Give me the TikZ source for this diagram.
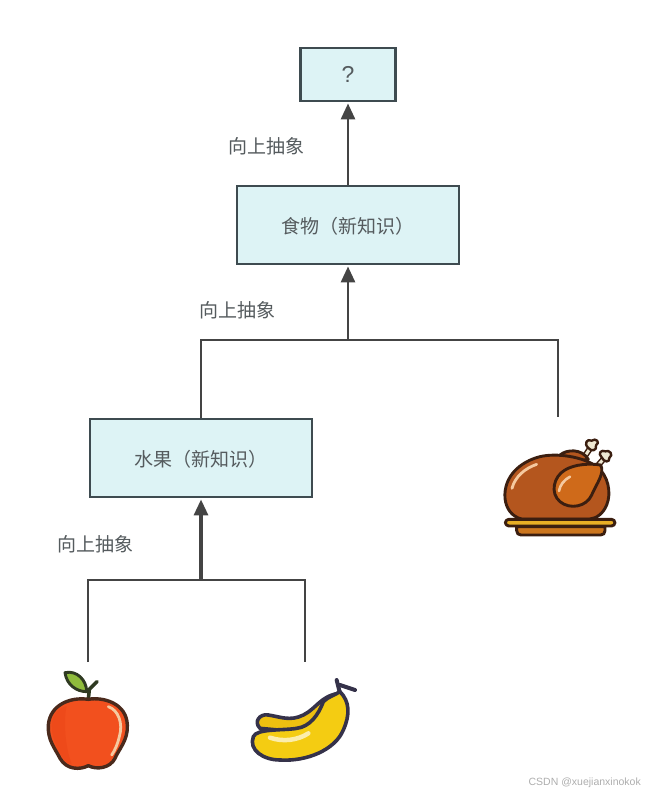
\documentclass[tikz,border=0pt]{standalone}
\usepackage{fontspec}
\usetikzlibrary{arrows.meta}
\newfontfamily\cjkf{Noto Sans CJK SC}
\setmainfont{Liberation Sans}
\definecolor{boxfill}{HTML}{DDF3F5}
\definecolor{boxline}{HTML}{3E4B50}
\definecolor{txt}{HTML}{555B5E}
\definecolor{conn}{HTML}{444444}
\definecolor{chk}{HTML}{B4561E}
\definecolor{chkleg}{HTML}{CF6A1A}
\definecolor{chkline}{HTML}{3B1E10}
\definecolor{bone}{HTML}{EFE8D2}
\definecolor{gold}{HTML}{E8AE25}
\definecolor{plate}{HTML}{CC761E}
\definecolor{hl}{HTML}{F5C9A0}
\definecolor{appl}{HTML}{F2501E}
\definecolor{appd}{HTML}{EE4A1A}
\definecolor{appline}{HTML}{4A2A1C}
\definecolor{leaf}{HTML}{8FBC3C}
\definecolor{leafline}{HTML}{2F3A22}
\definecolor{ban}{HTML}{F4CC12}
\definecolor{banb}{HTML}{EEC010}
\definecolor{banline}{HTML}{35324A}
\tikzset{
  x=1pt,y=-1pt,
  concept/.style={draw=boxline,fill=boxfill,line width=2.9pt,inner sep=0pt,text=txt,font=\cjkf\fontsize{19}{21}\selectfont},
  absl/.style={text=txt,inner sep=0pt,font=\cjkf\fontsize{19}{21}\selectfont},
  conline/.style={draw=conn,line width=2.7pt},
  uparrow/.style={draw=conn,line width=2.9pt,-{Triangle[length=16pt,width=14pt]},shorten >=1pt},
  icon/.style={line width=2.9pt,line join=round,line cap=round}
}
\begin{document}
\begin{tikzpicture}
\useasboundingbox (0,0) rectangle (648,794);
% boxes
\node[concept,minimum width=95pt,minimum height=53pt,font=\fontsize{23}{25}\selectfont] (q) at (348,74.5) {?};
\node[concept,minimum width=222pt,minimum height=78pt,text depth=0pt] (food) at (348,225) {\raisebox{-1pt}{食物（新知识）}};
\node[concept,minimum width=222pt,minimum height=78pt,text depth=0pt] (fruit) at (201,458) {\raisebox{-1pt}{水果（新知识）}};
% labels
\node[absl] (l1) at (266.5,146) {向上抽象};
\node[absl] (l2) at (237.5,310) {向上抽象};
\node[absl] (l3) at (95.5,544) {向上抽象};
% connector points
\coordinate (j1) at (348,340);
\coordinate (c1) at (558,417);
\coordinate (j2) at (201,580);
\coordinate (a1) at (88,662);
\coordinate (b1) at (305,662);
% connectors
\draw[uparrow] (food.north) -- (q.south);
\draw[uparrow] (j1) -- (food.south);
\draw[conline] (fruit.north) |- (j1) -| (c1);
\draw[uparrow,line width=3.2pt] (j2) -- (fruit.south);
\draw[conline] (a1) |- (j2) -| (b1);
% chicken
\begin{scope}[shift={(490,420)},x=0.3333pt,y=-0.3333pt]
  \draw[icon,draw=chkline,line width=6pt] (285,108) -- (305,78);
  \draw[icon,draw=bone,line width=3pt] (285,108) -- (305,78);
  \draw[icon,draw=chkline,line width=6pt] (325,135) -- (345,112);
  \draw[icon,draw=bone,line width=3pt] (325,135) -- (345,112);
  \draw[icon,draw=chkline,fill=bone,line width=2.4pt] (295,84) .. controls (280,70) and (292,55) .. (305,62) .. controls (318,52) and (332,68) .. (318,76) .. controls (322,92) and (304,96) .. (295,84) -- cycle;
  \draw[icon,draw=chkline,fill=bone,line width=2.4pt] (335,112) .. controls (322,100) and (334,88) .. (346,94) .. controls (358,88) and (372,104) .. (358,114) .. controls (360,128) and (342,128) .. (335,112) -- cycle;
  \draw[icon,draw=chkline,fill=chk] (210,105) .. controls (230,88) and (275,85) .. (295,118) -- (250,125) -- cycle;
  \draw[icon,draw=chkline,fill=chk] (45,235) .. controls (40,170) and (90,125) .. (150,110) .. controls (200,98) and (280,110) .. (320,140) .. controls (355,165) and (365,220) .. (350,255) .. controls (340,280) and (320,295) .. (300,297) -- (95,297) .. controls (65,290) and (48,265) .. (45,235) -- cycle;
  \draw[line width=2.8pt,line cap=round,draw=hl] (66,205) .. controls (75,170) and (105,145) .. (140,133);
  \draw[icon,draw=chkline,fill=chkleg] (332,135) .. controls (345,160) and (320,190) .. (305,225) .. controls (290,260) and (240,270) .. (210,245) .. controls (180,220) and (190,170) .. (225,150) .. controls (255,132) and (300,130) .. (332,135) -- cycle;
  \draw[line width=2.6pt,line cap=round,draw=hl] (207,213) .. controls (210,195) and (222,180) .. (240,170);
  \draw[icon,draw=chkline,fill=plate] (80,320) -- (345,320) -- (345,332) .. controls (345,340) and (340,345) .. (332,345) -- (93,345) .. controls (85,345) and (80,340) .. (80,332) -- cycle;
  \draw[icon,draw=chkline,fill=gold,rounded corners=3.5pt] (46,298) rectangle (375,318);
\end{scope}
% apple
\begin{scope}[shift={(30,650)},x=0.3333pt,y=-0.3333pt]
  \draw[icon,draw=leafline,line width=3.6pt] (175,148) -- (178,118) -- (201,95);
  \draw[icon,draw=leafline,fill=leaf] (105,68) .. controls (140,60) and (170,90) .. (170,125) .. controls (140,125) and (110,105) .. (105,68) -- cycle;
  \draw[icon,draw=appline,fill=appl,line width=3.4pt] (175,148) .. controls (220,140) and (290,160) .. (292,225) .. controls (295,270) and (265,300) .. (255,325) .. controls (240,355) and (200,360) .. (175,347) .. controls (150,360) and (110,360) .. (90,325) .. controls (75,295) and (52,270) .. (55,225) .. controls (60,165) and (120,140) .. (175,148) -- cycle;
  \fill[appd] (110,168) .. controls (100,210) and (105,290) .. (125,342) .. controls (108,342) and (100,325) .. (93,315) .. controls (80,290) and (65,265) .. (65,225) .. controls (68,190) and (85,175) .. (110,168) -- cycle;
  \draw[line width=2.8pt,line cap=round,draw=hl] (235,170) .. controls (265,180) and (280,220) .. (268,260) .. controls (262,285) and (255,300) .. (245,315);
\end{scope}
% banana
\begin{scope}[shift={(240,665)},x=0.3333pt,y=-0.3333pt]
  \draw[icon,draw=banline,line width=4pt] (290,45) -- (300,85) (300,60) -- (345,75);
  \draw[icon,draw=banline,fill=banb,line width=3.6pt] (60,190) .. controls (40,170) and (60,145) .. (85,150) .. controls (120,155) and (150,170) .. (190,150) .. controls (230,130) and (240,95) .. (295,85) -- (250,170) -- (170,200) -- cycle;
  \draw[icon,draw=banline,fill=ban,line width=3.6pt] (300,80) .. controls (330,110) and (330,150) .. (310,195) .. controls (285,255) and (200,290) .. (120,285) .. controls (70,285) and (25,255) .. (40,215) .. controls (50,190) and (130,197) .. (170,190) .. controls (210,185) and (235,150) .. (250,110) .. controls (265,95) and (285,90) .. (300,80) -- cycle;
  \draw[line width=4.5pt,line cap=round,draw=ban!35!white] (90,218) .. controls (130,232) and (175,225) .. (205,205);
\end{scope}
% watermark
\node[text=black!32,inner sep=0pt,anchor=east,font=\fontsize{10.5}{12}\selectfont] (wm) at (641,783) {CSDN @xuejianxinokok};
\end{tikzpicture}
\end{document}
